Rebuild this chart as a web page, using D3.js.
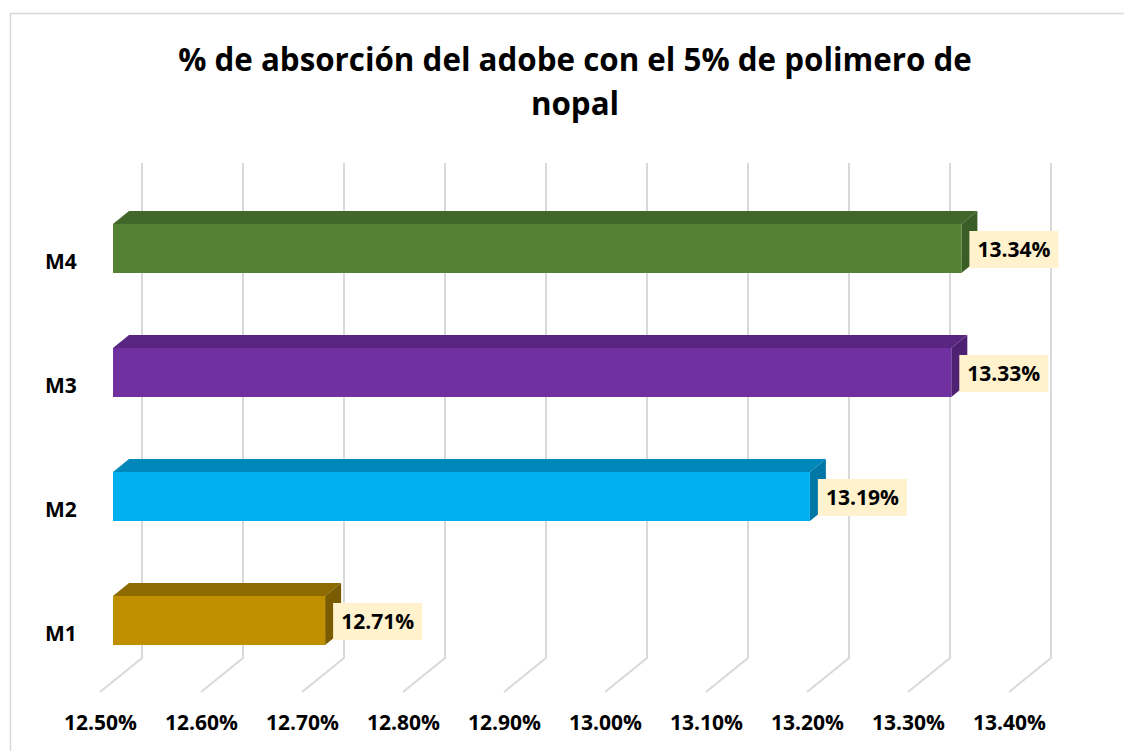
<!DOCTYPE html>
<html>
<head>
<meta charset="utf-8">
<script src="https://cdn.jsdelivr.net/npm/d3@7"></script>
<style>
  html, body { margin: 0; padding: 0; background: #fff; }
  svg { display: block; }
  text { font-family: "Open Sans", Lato, sans-serif; font-weight: bold; fill: #000; }
</style>
</head>
<body>
<svg id="chart" width="1124" height="751"></svg>
<script>
// ---- data ----
const titleLines = ["% de absorción del adobe con el 5% de polimero de", "nopal"];
const categories = ["M4", "M3", "M2", "M1"];
const values = [13.34, 13.33, 13.19, 12.71];
const labels = ["13.34%", "13.33%", "13.19%", "12.71%"];
const frontColors = ["#548235", "#7030A0", "#00B0F0", "#BF8F00"];
const topColors = ["#41672a", "#582680", "#0088bb", "#8e6b00"];
const sideColors = ["#3a5c25", "#4e2172", "#0077a6", "#7a5c00"];
const axisMin = 12.5, axisMax = 13.4;

// ---- layout ----
const svg = d3.select("#chart");
const FONT = "'Open Sans', Lato, sans-serif";
const FS = 21;

svg.append("rect").attr("x", 10.5).attr("y", 13.5).attr("width", 1200).attr("height", 900)
  .attr("fill", "#fff").attr("stroke", "#d9d9d9").attr("stroke-width", 1.5);

// back wall scale
const x = d3.scaleLinear().domain([axisMin, axisMax]).range([142, 1051]);
const wallTop = 163, wallBottom = 658;
const floorDX = -42, floorDY = 34;       // back wall -> front floor
const barShift = -29;                    // back wall -> bar front plane
const depthDX = 16, depthDY = -13;       // bar depth
const y = d3.scalePoint().domain(categories).range([248.5, 620.5]);
const barH = 49;

const ticks = x.ticks(10);
const fmt = v => d3.format(".2%")(v / 100);

// gridlines (back wall + floor)
const grid = svg.append("g");
ticks.forEach(t => {
  const gx = x(t);
  grid.append("path")
    .attr("d", `M${gx},${wallTop} L${gx},${wallBottom} L${gx + floorDX},${wallBottom + floorDY}`)
    .attr("fill", "none").attr("stroke", "#d9d9d9").attr("stroke-width", 2);
});

// axis labels via d3 axis on the front floor scale
const xFloor = x.copy().range(x.range().map(r => r + floorDX));
const axis = d3.axisBottom(xFloor).tickValues(ticks).tickFormat(fmt).tickSize(0).tickPadding(0);
const ag = svg.append("g").attr("transform", `translate(0,${wallBottom + floorDY + 30})`).call(axis);
ag.select(".domain").remove();
ag.selectAll("text").attr("font-size", FS).attr("font-family", FONT)
  .attr("font-weight", "bold").attr("fill", "#000").attr("dy", "0.36em").attr("y", 0);

// bars
const bars = svg.append("g");
categories.forEach((c, i) => {
  const x0 = x(axisMin) + barShift, x1 = x(values[i]) + barShift;
  const yt = y(c) - barH / 2, yb = y(c) + barH / 2;
  const g = bars.append("g");
  g.append("polygon")
    .attr("points", [[x0, yt], [x0 + depthDX, yt + depthDY], [x1 + depthDX, yt + depthDY], [x1, yt]].join(" "))
    .attr("fill", topColors[i]);
  g.append("polygon")
    .attr("points", [[x1, yt], [x1 + depthDX, yt + depthDY], [x1 + depthDX, yb + depthDY], [x1, yb]].join(" "))
    .attr("fill", sideColors[i]);
  g.append("rect").attr("x", x0).attr("y", yt).attr("width", x1 - x0).attr("height", barH)
    .attr("fill", frontColors[i]);

  // data label
  const lg = svg.append("g");
  const bx = x1 + 8, bw = 89, bh = 37;
  lg.append("rect").attr("x", bx).attr("y", y(c) - bh / 2 + 1).attr("width", bw).attr("height", bh)
    .attr("fill", "#FFF2CC");
  lg.append("text").attr("x", bx + bw / 2).attr("y", y(c) + 1).attr("dy", "0.36em")
    .attr("text-anchor", "middle").attr("font-size", FS).text(labels[i]);

  // category label
  svg.append("text").attr("x", 45).attr("y", y(c) + 13).attr("dy", "0.36em")
    .attr("font-size", FS).text(c);
});

// title
const t1 = svg.append("text").attr("x", 575).attr("y", 71).attr("text-anchor", "middle")
  .attr("font-size", 30).text(titleLines[0]);
const len = t1.node().getComputedTextLength();
const fs = 30 * 794 / len;
t1.attr("font-size", fs);
svg.append("text").attr("x", 575).attr("y", 115).attr("text-anchor", "middle")
  .attr("font-size", fs).text(titleLines[1]);
</script>
</body>
</html>
